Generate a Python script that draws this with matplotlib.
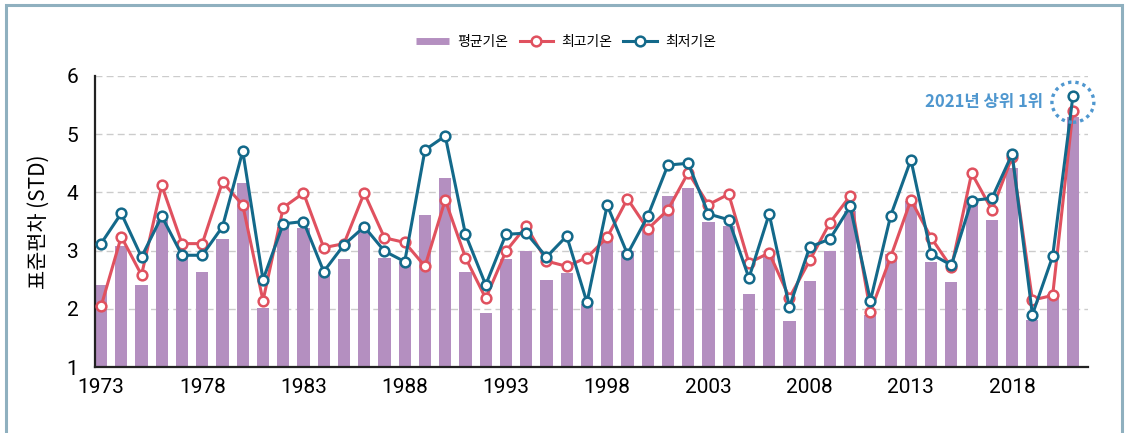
import matplotlib.pyplot as plt
from matplotlib.lines import Line2D
from matplotlib.patches import Ellipse, Rectangle

plt.rcParams['font.family'] = ['Noto Sans CJK KR', 'DejaVu Sans']

# ---------- data ----------
years = list(range(1973, 2022))
avg_std = [2.41, 3.08, 2.41, 3.53, 2.94, 2.64, 3.20, 4.16, 2.01, 3.41,
           3.38, 2.64, 2.85, 3.38, 2.88, 2.82, 3.61, 4.24, 2.64, 1.93,
           2.85, 2.99, 2.49, 2.61, 2.09, 3.22, 2.99, 3.37, 3.94, 4.07,
           3.49, 3.42, 2.26, 2.95, 1.79, 2.48, 2.99, 3.68, 1.90, 2.94,
           3.86, 2.81, 2.46, 3.81, 3.53, 4.42, 1.81, 2.25, 5.29]
max_std = [2.04, 3.24, 2.58, 4.12, 3.12, 3.12, 4.18, 3.78, 2.14, 3.74,
           3.99, 3.05, 3.12, 3.99, 3.22, 3.14, 2.73, 3.87, 2.88, 2.18,
           2.99, 3.42, 2.82, 2.73, 2.88, 3.23, 3.89, 3.37, 3.70, 4.34,
           3.79, 3.97, 2.79, 2.96, 2.19, 2.83, 3.48, 3.94, 1.95, 2.89,
           3.87, 3.22, 2.71, 4.33, 3.70, 4.61, 2.15, 2.23, 5.39]
min_std = [3.12, 3.64, 2.89, 3.59, 2.92, 2.92, 3.41, 4.71, 2.50, 3.46,
           3.50, 2.64, 3.10, 3.41, 2.99, 2.81, 4.73, 4.97, 3.28, 2.41,
           3.28, 3.30, 2.89, 3.25, 2.11, 3.78, 2.94, 3.59, 4.47, 4.50,
           3.63, 3.53, 2.53, 3.63, 2.03, 3.06, 3.20, 3.76, 2.14, 3.60,
           4.56, 2.94, 2.75, 3.86, 3.90, 4.66, 1.90, 2.90, 5.65]
xtick_years = list(range(1973, 2019, 5))

C_BAR = '#b48fc0'
C_MAX = '#e0515f'
C_MIN = '#13698a'
C_NOTE = '#4f97cf'

# ---------- figure ----------
fig = plt.figure(figsize=(11.25, 4.33), dpi=100)
ax = fig.add_axes([0.0844, 0.1524, 0.8826, 0.6721])

# frame around the figure
fig.patches.append(Rectangle((6 / 1125, -0.05), (1122 - 6) / 1125, 1.05 - 5 / 433,
                             transform=fig.transFigure, fill=False,
                             edgecolor='#8fb0bf', linewidth=2.2))

ax.bar(years, avg_std, width=0.6, color=C_BAR, zorder=2)
l1, = ax.plot(years, max_std, color=C_MAX, lw=2.2, marker='o', ms=7,
              mfc='white', mec=C_MAX, mew=1.8, zorder=3)
l2, = ax.plot(years, min_std, color=C_MIN, lw=2.2, marker='o', ms=7,
              mfc='white', mec=C_MIN, mew=1.8, zorder=4)

ax.set_xlim(1972.7, 2021.74)
ax.set_ylim(1, 6)
ax.set_yticks([1, 2, 3, 4, 5, 6])
ax.set_xticks(xtick_years)
ax.tick_params(length=0, labelsize=15, pad=8)
for lbl in ax.get_xticklabels() + ax.get_yticklabels():
    lbl.set_family(['Roboto', 'DejaVu Sans'])
ax.tick_params(axis='y', pad=12)

ax.grid(axis='y', color='#cccccc', linestyle=(0, (5, 3)), linewidth=1)
ax.set_axisbelow(True)
for s in ['top', 'right']:
    ax.spines[s].set_visible(False)
for s in ['left', 'bottom']:
    ax.spines[s].set_linewidth(1.6)
    ax.spines[s].set_color('#222222')

ax.set_ylabel('표준편차 (STD)', fontsize=15, labelpad=12)

# 2021 highlight
ax.add_patch(Ellipse((2021, 5.55), 2.07, 0.69, fill=False, edgecolor=C_NOTE,
                     linestyle=(0, (1, 1.2)), linewidth=2.4, zorder=5,
                     clip_on=False))
ax.text(2019.55, 5.55, '2021년 상위 1위', color=C_NOTE, fontsize=12,
        ha='right', va='center', fontweight='bold')

bar_handle = Line2D([], [], color=C_BAR, lw=5, solid_capstyle='butt')
fig.legend([bar_handle, l1, l2], ['평균기온', '최고기온', '최저기온'],
           loc='center', bbox_to_anchor=(0.503, 0.903), ncol=3, frameon=False,
           fontsize=10, handlelength=2.4, handletextpad=0.6, columnspacing=0.8)

fig.savefig('out.png', dpi=100)
